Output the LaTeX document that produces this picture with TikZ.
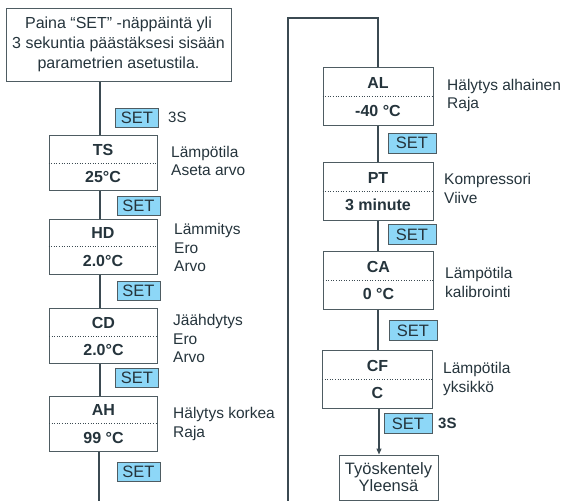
\documentclass[tikz,border=0pt]{standalone}
\usepackage{fontspec}
\setmainfont{Liberation Sans}
\usetikzlibrary{arrows.meta}
\definecolor{ln}{HTML}{3B4A52}
\definecolor{tx}{HTML}{25343C}
\definecolor{setfill}{HTML}{8DD7F7}
\definecolor{bd}{HTML}{4E5C62}
\tikzset{
  parbox/.style={draw=bd, line width=1pt, fill=white, minimum width=108pt, minimum height=55pt, inner sep=0pt},
  parboxr/.style={parbox, minimum width=110pt, minimum height=58pt},
  ttl/.style={font=\fontsize{16}{18}\selectfont\bfseries, text=tx, inner sep=0pt},
  setbox/.style={draw=bd, line width=0.9pt, fill=setfill, minimum width=43pt, minimum height=19pt, inner sep=0pt, font=\fontsize{16.5}{18}\selectfont, text=tx},
  setboxr/.style={setbox, minimum width=48pt, minimum height=20pt},
  lbl/.style={font=\fontsize{15.5}{18.7}\selectfont, text=tx, align=left, anchor=west, inner sep=0pt},
  spine/.style={draw=ln, line width=1.3pt},
  dots/.style={draw=ln, line width=0.6pt, dotted},
}
\newcommand{\pbox}[6]{% name, style, x, y, title, value
  \node[#2] (#1) at (#3,#4) {};
  \draw[dots] (#1.west) -- (#1.east);
  \node[ttl] (#1t) at ([yshift=13.5pt]#1.center) {#5};
  \node[ttl] (#1v) at ([yshift=-14pt]#1.center) {#6};
}
\begin{document}
\begin{tikzpicture}[x=1pt,y=-1pt]
\useasboundingbox (0,0) rectangle (571,501);
% start box
\node[draw=bd, line width=1pt, minimum width=225pt, minimum height=73pt, align=center,
      font=\fontsize{16}{20}\selectfont, text=tx, inner sep=0pt] (start) at (118.5,44.5)
  {Paina “SET” -näppäintä yli\\3 sekuntia päästäksesi sisään\\parametrien asetustila.};
% left column boxes
\pbox{ts}{parbox}{103}{163}{TS}{25°C}
\pbox{hd}{parbox}{103}{246.5}{HD}{2.0°C}
\pbox{cd}{parbox}{103.5}{336}{CD}{2.0°C}
\pbox{ah}{parbox}{103.5}{423.5}{AH}{99 °C}
% right column boxes
\pbox{al}{parboxr}{378}{96.5}{AL}{-40 °C}
\pbox{pt}{parboxr}{378}{191}{PT}{3 minute}
\pbox{ca}{parboxr}{378.5}{280}{CA}{0 °C}
\pbox{cf}{parboxr}{377.5}{379}{CF}{C}
\node[draw=bd, line width=1pt, minimum width=99pt, minimum height=45pt, align=center,
      font=\fontsize{16.5}{17}\selectfont, text=tx, inner sep=0pt] (work) at (388.5,477.5)
  {Työskentely\\Yleensä};
% coordinates for spine ends
\coordinate (lbot) at (100,502);
\coordinate (rbot) at (288,502);
\coordinate (rtop) at (288,18);
% connectors left
\draw[spine] (start.south -| 100,0) -- (ts.north -| 100,0);
\draw[spine] (ts.south -| 100,0) -- (hd.north -| 100,0);
\draw[spine] (hd.south -| 100,0) -- (cd.north -| 100,0);
\draw[spine] (cd.south -| 100,0) -- (ah.north -| 100,0);
\draw[spine] (ah.south -| 99,0) -- (lbot -| 99,0);
% right loop
\draw[spine] (rbot) -- (rtop) -- (rtop -| al.north) -- (al.north);
\draw[spine] (al.south) -- (pt.north);
\draw[spine] (pt.south) -- (ca.north -| pt.south);
\draw[spine] (ca.south -| pt.south) -- (cf.north -| pt.south);
\draw[spine, -{Triangle[length=6pt,width=5pt]}] (cf.south -| 379,0) -- (work.north -| 379,0);
% SET boxes
\node[setbox] (s0) at (137,117.5) {SET};
\node[font=\fontsize{15}{16}\selectfont, text=tx, anchor=west, inner sep=0pt] (s0l) at (168,117.5) {3S};
\node[setbox] (s1) at (138.5,205.5) {SET};
\node[setbox] (s2) at (138.5,291) {SET};
\node[setbox] (s3) at (137,378) {SET};
\node[setbox] (s4) at (138.5,472) {SET};
\node[setboxr] (s5) at (412,143) {SET};
\node[setboxr] (s6) at (412,234.5) {SET};
\node[setboxr] (s7) at (413,330.5) {SET};
\node[setboxr] (s8) at (408,423.5) {SET};
\node[font=\fontsize{15}{16}\selectfont\bfseries, text=tx, anchor=west, inner sep=0pt] (s8l) at (438,423.5) {3S};
% labels
\node[lbl] (tsl) at (171,161) {Lämpötila\\Aseta arvo};
\node[lbl] (hdl) at (174,247.5) {Lämmitys\\Ero\\Arvo};
\node[lbl] (cdl) at (173,338.5) {Jäähdytys\\Ero\\Arvo};
\node[lbl] (ahl) at (173,424) {Hälytys korkea\\Raja};
\node[lbl] (all) at (447,95.5) {Hälytys alhainen\\Raja};
\node[lbl] (ptl) at (444,188.5) {Kompressori\\Viive};
\node[lbl] (cal) at (445,282.5) {Lämpötila\\kalibrointi};
\node[lbl] (cfl) at (443,379) {Lämpötila\\yksikkö};
\end{tikzpicture}
\end{document}
